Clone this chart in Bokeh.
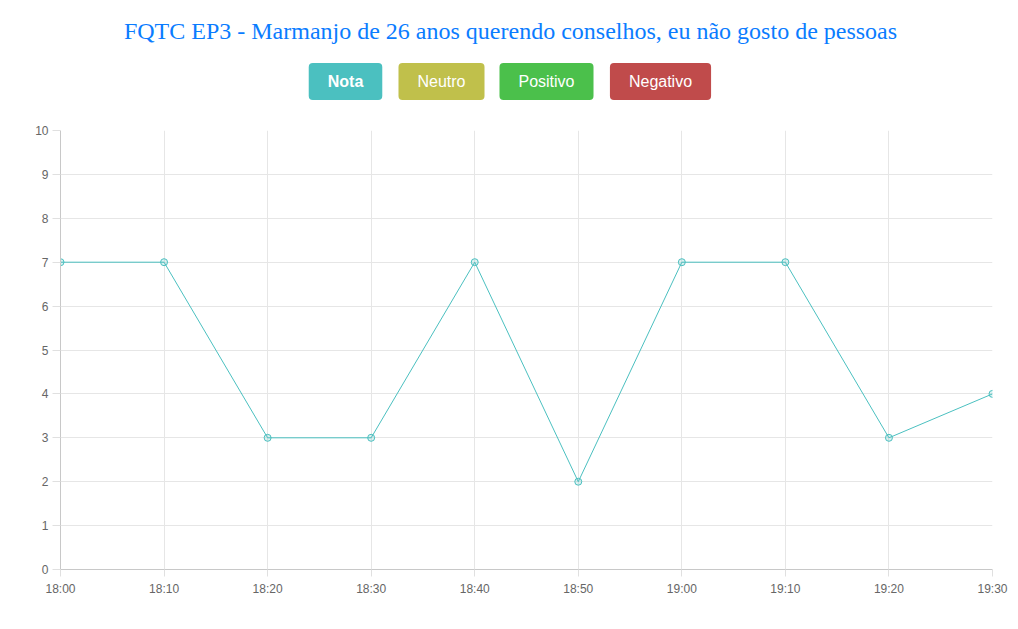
from bokeh.plotting import figure
from bokeh.models import Range1d, FixedTicker, Label
from bokeh.layouts import column
from bokeh.embed import file_html
from bokeh.resources import INLINE

title_text = "FQTC EP3 - Marmanjo de 26 anos querendo conselhos, eu não gosto de pessoas"
times = ["18:00", "18:10", "18:20", "18:30", "18:40", "18:50", "19:00", "19:10", "19:20", "19:30"]
nota = [7, 7, 3, 3, 7, 2, 7, 7, 3, 4]
legend_names = ["Nota", "Neutro", "Positivo", "Negativo"]
legend_colors = ["#4bc0c0", "#c0c04b", "#4bc04b", "#c04b4b"]

def to_min(t):
    h, m = t.split(":")
    return (int(h) - 18) * 60 + int(m)

xs = [to_min(t) for t in times]

W, H = 1018, 629
HH = 115  # header height
L, R, T, B = 60, 26, 130 - HH, 60

# header figure (title + legend buttons); its frame is aligned with the chart frame
hdr = figure(width=W, height=HH, output_backend="svg", toolbar_location=None,
             x_range=Range1d(L, W - R), y_range=Range1d(HH, 0),
             min_border=0, min_border_left=L, min_border_right=R,
             min_border_top=0, min_border_bottom=0)
hdr.axis.visible = False
hdr.grid.visible = False
hdr.outline_line_color = None
hdr.background_fill_color = "white"
hdr.border_fill_color = "white"

font = "Liberation Sans"
hdr.add_layout(Label(x=510, y=30, text=title_text, text_align="center",
                     text_baseline="middle", text_font="Liberation Serif",
                     text_font_size="24px", text_color="#0a7cff"))
centers = [345, 441, 546, 660]
for name, col, cx in zip(legend_names, legend_colors, centers):
    hdr.add_layout(Label(x=cx, y=81, text=name, text_align="center", text_baseline="middle",
                         text_font=font, text_font_size="16px",
                         text_font_style="bold" if name == "Nota" else "normal",
                         text_color="white", background_fill_color=col,
                         padding=(19, 10), border_radius=4))

p = figure(width=W, height=H - HH, output_backend="svg", toolbar_location=None,
           x_range=Range1d(0, 90), y_range=Range1d(0, 10),
           min_border_left=L, min_border_right=R, min_border_top=T, min_border_bottom=B)
p.outline_line_color = None
p.background_fill_color = "white"
p.border_fill_color = "white"

for ax in (p.xaxis[0], p.yaxis[0]):
    ax.axis_line_color = "#c8c8c8"
    ax.major_tick_line_color = "#e0e0e0"
    ax.minor_tick_line_color = None
    ax.major_tick_in = 0
    ax.major_label_text_font = font
    ax.major_label_text_font_size = "12px"
    ax.major_label_text_color = "#666666"

p.xaxis.ticker = FixedTicker(ticks=xs)
p.xaxis.major_label_overrides = {x: t for x, t in zip(xs, times)}
p.xaxis.major_tick_out = 7
p.xaxis.major_label_standoff = 5
p.yaxis.ticker = FixedTicker(ticks=list(range(0, 11)))
p.yaxis.major_tick_out = 8
p.yaxis.major_label_standoff = 4

p.xgrid.ticker = FixedTicker(ticks=xs)
p.ygrid.ticker = FixedTicker(ticks=list(range(0, 11)))
p.xgrid.grid_line_color = "#e6e6e6"
p.ygrid.grid_line_color = "#e6e6e6"

p.line(xs, nota, line_color=legend_colors[0], line_width=1)
p.scatter(xs, nota, size=7, line_color=legend_colors[0], fill_color=legend_colors[0],
          fill_alpha=0.2, line_width=1)

layout = column(hdr, p, spacing=0)
open("out.html", "w").write(file_html(layout, INLINE))
